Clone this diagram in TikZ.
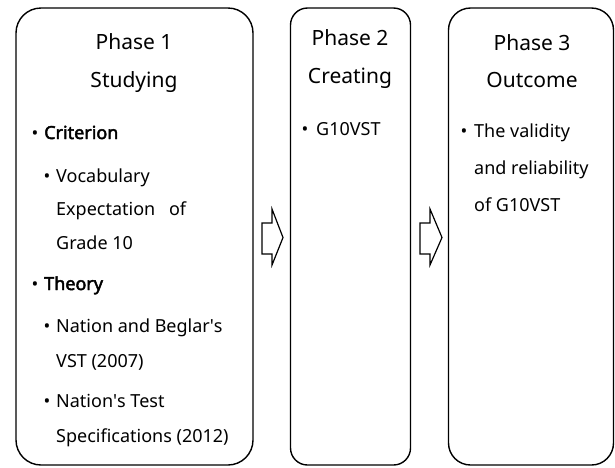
\documentclass[tikz,border=0pt]{standalone}
\usepackage{fontspec}
\setmainfont{Noto Sans}[AutoFakeBold=2.5]
\newfontfamily\apfont{Noto Sans}
\newcommand{\sq}{{\apfont '}}
\begin{document}
\begin{tikzpicture}[x=1pt,y=-1pt,
  phasebox/.style={draw, line width=1.4pt, inner sep=0pt, minimum height=457pt},
  head/.style={inner sep=0pt, anchor=base, font=\fontsize{21}{25}\selectfont},
  txt/.style={inner sep=0pt, anchor=base west, font=\fontsize{18}{22}\selectfont},
  bul/.style={inner sep=0pt, anchor=base, font=\fontsize{18}{22}\selectfont},
  blockarrow/.style={draw, line width=1.2pt, line join=miter, fill=white}]
\useasboundingbox (0,0) rectangle (615,467);
% boxes
\node[phasebox, rounded corners=25pt, minimum width=237pt] (p1) at (134.5,236.5) {};
\node[phasebox, rounded corners=17pt, minimum width=120pt] (p2) at (350.5,236.5) {};
\node[phasebox, rounded corners=22pt, minimum width=165pt] (p3) at (531,236.5) {};
% block arrows
\draw[blockarrow] (262,223) -- (272,223) -- (272,209) -- (283,237.5) -- (272,265) -- (272,254) -- (262,254) -- cycle;
\draw[blockarrow] (420,223) -- (430,223) -- (430,209) -- (442,237.5) -- (430,265) -- (430,254) -- (420,254) -- cycle;
% phase 1
\node[head] (h1a) at (134,49) {Phase 1};
\node[head] (h1b) at (134,87) {Studying};
\node[bul] (b1) at (35,139) {•};
\node[txt] (t1) at (44,139) {\bfseries Criterion};
\node[bul] (b2) at (47,182) {•};
\node[txt] (t2) at (56,182) {Vocabulary};
\node[txt] (t3) at (56,215) {Expectation\hspace{0.5em} of};
\node[txt] (t4) at (56,249) {Grade 10};
\node[bul] (b3) at (35,290) {•};
\node[txt] (t5) at (44,290) {\bfseries Theory};
\node[bul] (b4) at (47,332) {•};
\node[txt] (t6) at (56,332) {Nation and Beglar\sq s};
\node[txt] (t7) at (56,367) {VST (2007)};
\node[bul] (b5) at (47,407) {•};
\node[txt] (t8) at (56,407) {Nation\sq s Test};
\node[txt] (t9) at (56,442) {Specifications (2012)};
% phase 2
\node[head] (h2a) at (350,45) {Phase 2};
\node[head] (h2b) at (350,83) {Creating};
\node[bul] (b6) at (305,135) {•};
\node[txt] (t10) at (316,135) {G10VST};
% phase 3
\node[head] (h3a) at (532,50) {Phase 3};
\node[head] (h3b) at (532,87) {Outcome};
\node[bul] (b7) at (464,137) {•};
\node[txt] (t11) at (474,137) {The validity};
\node[txt] (t12) at (474,174) {and reliability};
\node[txt] (t13) at (474,211) {of G10VST};
\end{tikzpicture}
\end{document}
